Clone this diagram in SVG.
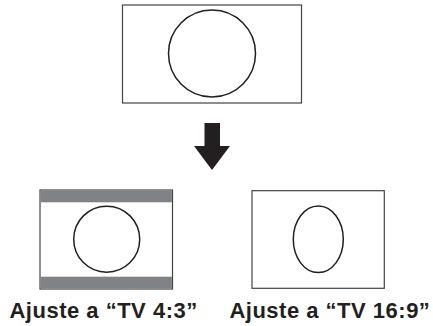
<svg xmlns="http://www.w3.org/2000/svg" width="433" height="326" viewBox="0 0 433 326">
<style>
.frame{fill:#fff;stroke:#444;stroke-width:1.2}
.shape{fill:none;stroke:#231f20;stroke-width:1.5}
.band{fill:#808285}
.lbl{font-family:"Liberation Sans",Arial,sans-serif;font-weight:bold;font-size:22px;letter-spacing:0.5px;fill:#231f20}
</style>
<rect width="433" height="326" fill="#fff"/>
<g id="source">
<rect class="frame" x="122.5" y="5" width="179" height="98"/>
<circle class="shape" cx="212" cy="53.5" r="43.5"/>
</g>
<g id="connectors">
<polygon points="204.5,123 220,123 220,146 230,146 212,170 194,146 204.5,146" fill="#231f20"/>
</g>
<g id="tv43">
<rect class="frame" x="40" y="190" width="132.5" height="99"/>
<rect class="band" x="40.6" y="190.6" width="131.3" height="11.7"/>
<rect class="band" x="40.6" y="276.7" width="131.3" height="11.7"/>
<circle class="shape" cx="106.7" cy="239.2" r="33"/>
<text class="lbl" x="103.6" y="318" text-anchor="middle">Ajuste a “TV 4:3”</text>
</g>
<g id="tv169">
<rect class="frame" x="252" y="190.7" width="132.3" height="97.6"/>
<ellipse class="shape" cx="318.3" cy="239.3" rx="25" ry="33.3"/>
<text class="lbl" x="329.9" y="318" text-anchor="middle">Ajuste a “TV 16:9”</text>
</g>
</svg>
